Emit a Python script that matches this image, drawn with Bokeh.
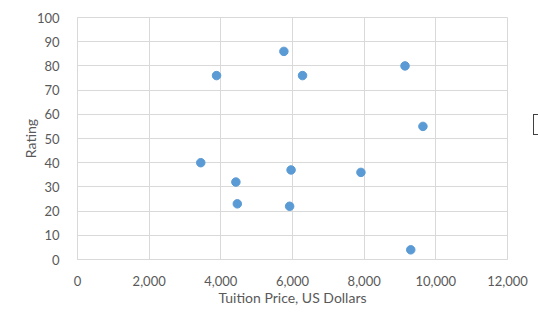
from bokeh.plotting import figure
from bokeh.models import FixedTicker, NumeralTickFormatter, Range1d, Div
from bokeh.layouts import row
from bokeh.embed import file_html
from bokeh.resources import INLINE

tuition = [3880, 3440, 4420, 4460, 5760, 6280, 9140, 9640, 5960, 7910, 5920, 9300]
rating = [76, 40, 32, 23, 86, 76, 80, 55, 37, 36, 22, 4]
x_ticks = [0, 2000, 4000, 6000, 8000, 10000, 12000]
y_ticks = [0, 10, 20, 30, 40, 50, 60, 70, 80, 90, 100]

FONT = "Lato"
GRID = "#d9d9d9"
LABEL = "#595959"

p = figure(width=532, height=320, output_backend="svg", toolbar_location=None,
           x_range=Range1d(0, 12000), y_range=Range1d(0, 100),
           min_border_left=77, min_border_right=25, min_border_top=17, min_border_bottom=61)
p.background_fill_color = "white"
p.border_fill_color = "white"
p.outline_line_color = GRID
p.outline_line_width = 1

p.scatter(tuition, rating, size=8.5, color="#5b9bd5", line_color="#5b9bd5")

p.xaxis.ticker = FixedTicker(ticks=x_ticks)
p.yaxis.ticker = FixedTicker(ticks=y_ticks)
p.xaxis.formatter = NumeralTickFormatter(format="0,0")
p.xgrid.ticker = FixedTicker(ticks=x_ticks)
p.ygrid.ticker = FixedTicker(ticks=y_ticks)
p.grid.grid_line_color = GRID
p.grid.grid_line_width = 1

for ax in (p.xaxis, p.yaxis):
    ax.axis_line_color = GRID
    ax.major_tick_line_color = None
    ax.minor_tick_line_color = None
    ax.major_label_text_font = FONT
    ax.major_label_text_font_size = "13px"
    ax.major_label_text_color = LABEL
    ax.axis_label_text_font = FONT
    ax.axis_label_text_font_size = "14px"
    ax.axis_label_text_color = LABEL
    ax.axis_label_text_font_style = "normal"

p.xaxis.axis_label = "Tuition Price, US Dollars"
p.yaxis.axis_label = "Rating"
p.xaxis.major_label_standoff = 10
p.yaxis.major_label_standoff = 12
p.xaxis.axis_label_standoff = 0
p.yaxis.axis_label_standoff = -5

# clipped legend-like box at the right edge
side = Div(width=6, height=320, margin=0, styles={"overflow": "hidden", "background": "white"},
           text='<div style="margin-top:114px;margin-left:1px;width:20px;height:21px;'
                'border:1.5px solid #404040;background:white"></div>')

layout = row(p, side, spacing=0)
open("out.html", "w").write(file_html(layout, INLINE))
